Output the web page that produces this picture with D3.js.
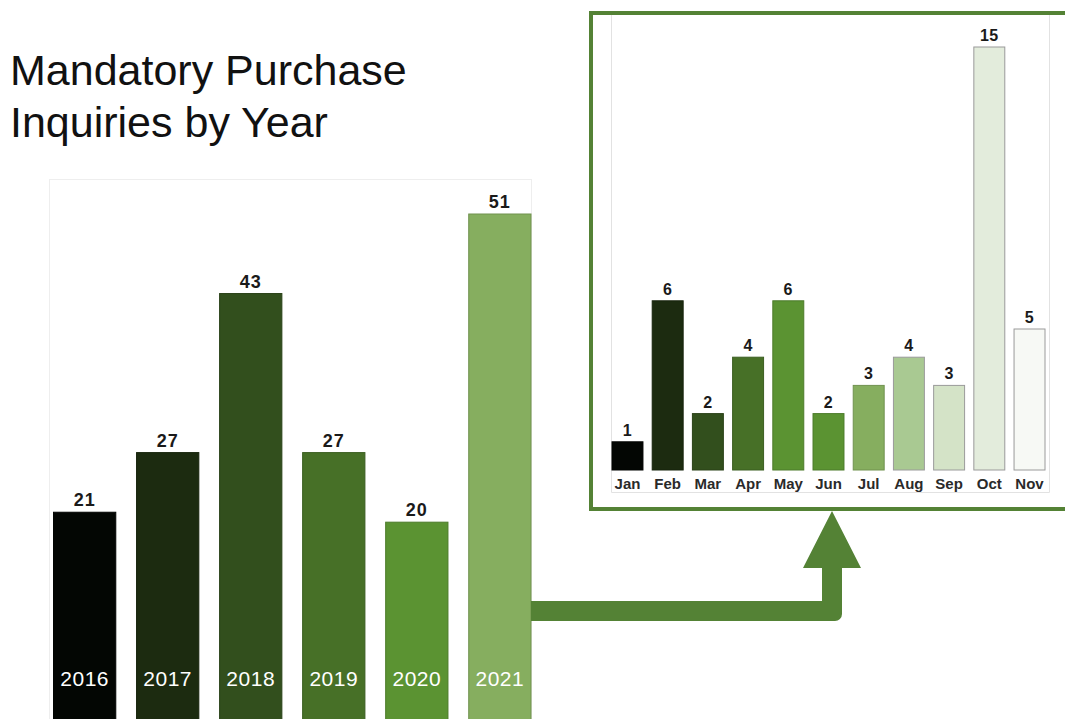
<!DOCTYPE html>
<html>
<head>
<meta charset="utf-8">
<script src="https://cdn.jsdelivr.net/npm/d3@7"></script>
<style>
  html, body { margin: 0; padding: 0; background: #fff; }
  svg { display: block; }
</style>
</head>
<body>
<svg id="chart" width="1065" height="719"></svg>
<script>
// Yearly totals
const years = ["2016", "2017", "2018", "2019", "2020", "2021"];
const yearValues = [21, 27, 43, 27, 20, 51];
const yearColors = ["#030603", "#1c2b10", "#324f1d", "#477027", "#5b9332", "#86ae5f"];

// 2021 monthly breakdown
const months = ["Jan", "Feb", "Mar", "Apr", "May", "Jun", "Jul", "Aug", "Sep", "Oct", "Nov"];
const monthValues = [1, 6, 2, 4, 6, 2, 3, 4, 3, 15, 5];
const monthColors = ["#030603", "#1c2b10", "#324f1d", "#477027", "#5b9332", "#5b9332",
                     "#86ae5f", "#a9c992", "#d4e3c7", "#e3ecdc", "#f7f9f5"];

const titleLines = ["Mandatory Purchase", "Inquiries by Year"];
const accent = "#548235";
const font = "'Liberation Sans', Arial, sans-serif";

const svg = d3.select("#chart");

// Title
svg.append("g").selectAll("text")
  .data(titleLines)
  .join("text")
  .attr("x", 10)
  .attr("y", (d, i) => 85 + i * 52)
  .attr("font-family", font)
  .attr("font-size", 43)
  .attr("fill", "#111")
  .text(d => d);

// ---- Yearly chart ----
svg.append("rect")
  .attr("x", 49.5).attr("y", 179.5)
  .attr("width", 482).attr("height", 560)
  .attr("fill", "none").attr("stroke", "#eeeeee");

const xY = d3.scaleBand().domain(years).range([53.5, 531]).paddingInner(0.25);
const yY = d3.scaleLinear().domain([0, 51]).range([721, 214]);

const yearData = years.map((y, i) => ({ key: y, value: yearValues[i], color: yearColors[i] }));

const gYear = svg.append("g");
gYear.selectAll("rect")
  .data(yearData)
  .join("rect")
  .attr("x", d => xY(d.key))
  .attr("y", d => yY(d.value))
  .attr("width", xY.bandwidth())
  .attr("height", d => yY(0) - yY(d.value))
  .attr("fill", d => d.color)
  .attr("stroke", d => d3.color(d.color).darker(0.5))
  .attr("stroke-width", 1);

gYear.selectAll("text.val")
  .data(yearData)
  .join("text")
  .attr("class", "val")
  .attr("x", d => xY(d.key) + xY.bandwidth() / 2)
  .attr("y", d => yY(d.value) - 6)
  .attr("text-anchor", "middle")
  .attr("font-family", font)
  .attr("font-weight", "bold")
  .attr("font-size", 18)
  .attr("letter-spacing", 1)
  .attr("fill", "#1a1a1a")
  .text(d => d.value);

gYear.selectAll("text.cat")
  .data(yearData)
  .join("text")
  .attr("class", "cat")
  .attr("x", d => xY(d.key) + xY.bandwidth() / 2)
  .attr("y", 686)
  .attr("text-anchor", "middle")
  .attr("font-family", font)
  .attr("font-size", 21)
  .attr("letter-spacing", 0.5)
  .attr("fill", "#ffffff")
  .text(d => d.key);

// ---- Connector arrow from 2021 to the monthly panel ----
const arrow = d3.path();
arrow.moveTo(xY("2021") + xY.bandwidth(), 601);
arrow.lineTo(822, 601);
arrow.lineTo(822, 568);
arrow.lineTo(803, 568);
arrow.lineTo(832, 511);
arrow.lineTo(861, 568);
arrow.lineTo(842, 568);
arrow.lineTo(842, 614);
arrow.arcTo(842, 621, 835, 621, 7);
arrow.lineTo(xY("2021") + xY.bandwidth(), 621);
arrow.closePath();
svg.append("path").attr("d", arrow.toString()).attr("fill", accent);

// ---- Monthly panel ----
svg.append("rect")
  .attr("x", 591).attr("y", 13)
  .attr("width", 520).attr("height", 496)
  .attr("fill", "#fff").attr("stroke", accent).attr("stroke-width", 4);

const inner = d3.path();
inner.moveTo(611.5, 15);
inner.lineTo(611.5, 492.5);
inner.lineTo(1049.5, 492.5);
inner.lineTo(1049.5, 15);
svg.append("path").attr("d", inner.toString())
  .attr("fill", "none").attr("stroke", "#e2e2e2");

const xM = d3.scaleBand().domain(months).range([612, 1045]).paddingInner(0.23);
const yM = d3.scaleLinear().domain([0, 15]).range([470, 47]);

const monthData = months.map((m, i) => ({ key: m, value: monthValues[i], color: monthColors[i] }));

const gMonth = svg.append("g");
gMonth.selectAll("rect")
  .data(monthData)
  .join("rect")
  .attr("x", d => xM(d.key))
  .attr("y", d => yM(d.value))
  .attr("width", xM.bandwidth())
  .attr("height", d => yM(0) - yM(d.value))
  .attr("fill", d => d.color)
  .attr("stroke", (d, i) => i >= 7 ? "#9a9a9a" : d3.color(d.color).darker(0.5))
  .attr("stroke-width", 1);

gMonth.selectAll("text.val")
  .data(monthData)
  .join("text")
  .attr("class", "val")
  .attr("x", d => xM(d.key) + xM.bandwidth() / 2)
  .attr("y", d => yM(d.value) - 6)
  .attr("text-anchor", "middle")
  .attr("font-family", font)
  .attr("font-weight", "bold")
  .attr("font-size", 16)
  .attr("letter-spacing", 0.5)
  .attr("fill", "#1a1a1a")
  .text(d => d.value);

gMonth.selectAll("text.cat")
  .data(monthData)
  .join("text")
  .attr("class", "cat")
  .attr("x", d => xM(d.key) + xM.bandwidth() / 2)
  .attr("y", 489)
  .attr("text-anchor", "middle")
  .attr("font-family", font)
  .attr("font-weight", "bold")
  .attr("font-size", 15)
  .attr("fill", "#2a2a2a")
  .text(d => d.key);
</script>
</body>
</html>
